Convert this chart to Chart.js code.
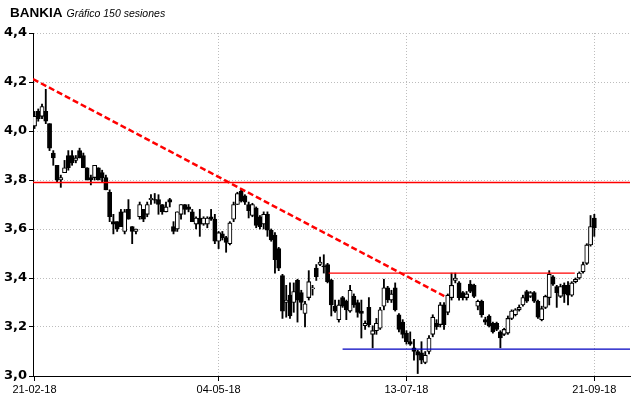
<!DOCTYPE html>
<html>
<head>
<meta charset="utf-8">
<script src="https://cdn.jsdelivr.net/npm/chart.js@4.4.1/dist/chart.umd.min.js"></script>
<style>
  html, body { margin: 0; padding: 0; background: #fff; }
  #wrap { position: relative; width: 640px; height: 398px; }
  #ttl { position: absolute; left: 10px; top: 3px; white-space: nowrap; color: #000; }
  #ttl .a { font: bold 13.5px "Liberation Sans", Arial, sans-serif; }
  #ttl .b { font: italic 10.5px "Liberation Sans", Arial, sans-serif; margin-left: 4px; }
  canvas { position: absolute; left: 0; top: 0; }
</style>
</head>
<body>
<div id="wrap">
  <canvas id="c" width="640" height="398"></canvas>
  <div id="ttl"><span class="a">BANKIA</span><span class="b">Gráfico 150 sesiones</span></div>
</div>
<script>
// ---- data ----
const openP = [
  4.02, 4.08, 4.06, 4.08, 4.03, 3.91, 3.86, 3.80, 3.83, 3.90,
  3.90, 3.88, 3.92, 3.90, 3.85, 3.81, 3.81, 3.85, 3.83, 3.81,
  3.75, 3.63, 3.63, 3.67, 3.59, 3.68, 3.61, 3.59, 3.65, 3.68,
  3.66, 3.72, 3.72, 3.72, 3.70, 3.67, 3.72, 3.61, 3.60, 3.66,
  3.70, 3.69, 3.67, 3.62, 3.645, 3.62, 3.62, 3.65, 3.64, 3.55,
  3.58, 3.565, 3.54, 3.64, 3.70, 3.755, 3.735, 3.70, 3.655, 3.685,
  3.65, 3.62, 3.66, 3.595, 3.575, 3.52, 3.41, 3.30, 3.33, 3.30,
  3.39, 3.34, 3.255, 3.32, 3.355, 3.44, 3.455, 3.45, 3.455, 3.39,
  3.285, 3.23, 3.32, 3.305, 3.265, 3.325, 3.30, 3.265, 3.205, 3.28,
  3.17, 3.185, 3.195, 3.285, 3.36, 3.31, 3.36, 3.25, 3.22, 3.175,
  3.14, 3.115, 3.10, 3.095, 3.055, 3.10, 3.17, 3.215, 3.21, 3.29,
  3.26, 3.32, 3.39, 3.38, 3.34, 3.32, 3.375, 3.37, 3.285, 3.305,
  3.23, 3.245, 3.215, 3.215, 3.18, 3.17, 3.175, 3.235, 3.25, 3.27,
  3.29, 3.345, 3.325, 3.34, 3.305, 3.23, 3.28, 3.32, 3.405, 3.365,
  3.325, 3.37, 3.37, 3.33, 3.385, 3.40, 3.425, 3.46, 3.535, 3.645
];
const highP = [
  4.08, 4.09, 4.11, 4.17, 4.03, 3.92, 3.86, 3.82, 3.88, 3.92,
  3.92, 3.90, 3.93, 3.91, 3.85, 3.82, 3.86, 3.85, 3.84, 3.82,
  3.76, 3.66, 3.63, 3.68, 3.68, 3.72, 3.61, 3.60, 3.71, 3.68,
  3.71, 3.74, 3.745, 3.74, 3.70, 3.71, 3.725, 3.63, 3.67, 3.70,
  3.70, 3.70, 3.68, 3.65, 3.68, 3.65, 3.65, 3.68, 3.66, 3.59,
  3.59, 3.57, 3.63, 3.71, 3.75, 3.765, 3.74, 3.71, 3.705, 3.69,
  3.655, 3.67, 3.67, 3.60, 3.585, 3.525, 3.415, 3.37, 3.38, 3.38,
  3.395, 3.35, 3.305, 3.43, 3.37, 3.455, 3.485, 3.495, 3.46, 3.395,
  3.31, 3.31, 3.325, 3.31, 3.37, 3.335, 3.31, 3.31, 3.225, 3.32,
  3.205, 3.235, 3.28, 3.395, 3.366, 3.35, 3.38, 3.255, 3.23, 3.185,
  3.18, 3.15, 3.105, 3.14, 3.10, 3.165, 3.25, 3.23, 3.30, 3.30,
  3.335, 3.42, 3.42, 3.385, 3.345, 3.345, 3.39, 3.375, 3.31, 3.31,
  3.24, 3.25, 3.22, 3.22, 3.185, 3.195, 3.245, 3.27, 3.275, 3.29,
  3.33, 3.35, 3.345, 3.345, 3.31, 3.285, 3.33, 3.43, 3.41, 3.37,
  3.375, 3.38, 3.385, 3.385, 3.40, 3.425, 3.465, 3.54, 3.655, 3.66
];
const lowP = [
  4.01, 4.04, 4.05, 4.03, 3.92, 3.86, 3.79, 3.77, 3.83, 3.84,
  3.86, 3.87, 3.89, 3.85, 3.80, 3.78, 3.80, 3.80, 3.79, 3.76,
  3.63, 3.58, 3.59, 3.61, 3.58, 3.64, 3.54, 3.58, 3.64, 3.63,
  3.65, 3.70, 3.705, 3.66, 3.66, 3.67, 3.69, 3.58, 3.59, 3.64,
  3.66, 3.67, 3.63, 3.60, 3.57, 3.615, 3.605, 3.635, 3.54, 3.52,
  3.555, 3.505, 3.535, 3.63, 3.70, 3.71, 3.70, 3.645, 3.65, 3.605,
  3.60, 3.60, 3.57, 3.55, 3.42, 3.43, 3.235, 3.24, 3.235, 3.26,
  3.22, 3.27, 3.20, 3.31, 3.33, 3.39, 3.45, 3.42, 3.38, 3.245,
  3.26, 3.22, 3.28, 3.23, 3.26, 3.28, 3.24, 3.155, 3.19, 3.20,
  3.115, 3.17, 3.19, 3.27, 3.30, 3.30, 3.265, 3.18, 3.155, 3.13,
  3.125, 3.065, 3.01, 3.05, 3.05, 3.09, 3.16, 3.19, 3.20, 3.19,
  3.25, 3.31, 3.38, 3.31, 3.31, 3.31, 3.34, 3.32, 3.27, 3.24,
  3.21, 3.20, 3.175, 3.185, 3.115, 3.165, 3.17, 3.23, 3.245, 3.265,
  3.285, 3.30, 3.32, 3.30, 3.235, 3.225, 3.275, 3.29, 3.37, 3.28,
  3.32, 3.30, 3.29, 3.325, 3.38, 3.395, 3.42, 3.455, 3.53, 3.57
];
const closeP = [
  4.06, 4.05, 4.10, 4.04, 3.93, 3.89, 3.80, 3.81, 3.85, 3.85,
  3.87, 3.89, 3.89, 3.85, 3.80, 3.80, 3.86, 3.80, 3.81, 3.76,
  3.65, 3.62, 3.60, 3.61, 3.67, 3.64, 3.59, 3.60, 3.70, 3.64,
  3.70, 3.725, 3.718, 3.70, 3.67, 3.69, 3.71, 3.59, 3.67, 3.70,
  3.68, 3.68, 3.63, 3.645, 3.62, 3.645, 3.645, 3.64, 3.55, 3.585,
  3.565, 3.545, 3.625, 3.70, 3.745, 3.715, 3.71, 3.675, 3.70, 3.615,
  3.61, 3.66, 3.595, 3.555, 3.475, 3.44, 3.265, 3.31, 3.245, 3.345,
  3.31, 3.30, 3.295, 3.385, 3.36, 3.405, 3.465, 3.445, 3.385, 3.29,
  3.265, 3.29, 3.285, 3.27, 3.35, 3.29, 3.26, 3.255, 3.215, 3.21,
  3.185, 3.215, 3.27, 3.36, 3.312, 3.335, 3.27, 3.19, 3.17, 3.14,
  3.13, 3.10, 3.085, 3.065, 3.085, 3.155, 3.24, 3.20, 3.29, 3.21,
  3.33, 3.37, 3.40, 3.32, 3.32, 3.335, 3.345, 3.325, 3.305, 3.25,
  3.22, 3.205, 3.18, 3.19, 3.155, 3.19, 3.235, 3.265, 3.27, 3.28,
  3.32, 3.305, 3.34, 3.305, 3.24, 3.275, 3.325, 3.415, 3.375, 3.34,
  3.365, 3.335, 3.33, 3.38, 3.395, 3.42, 3.455, 3.535, 3.61, 3.605
];

// x-axis date ticks (session index -> label)
const dateTickIdx = [0, 49, 99, 149];
const dateTickLabels = ['21-02-18', '04-05-18', '13-07-18', '21-09-18'];

// y-axis ticks
const priceTicks = [3.0, 3.2, 3.4, 3.6, 3.8, 4.0, 4.2, 4.4];
const priceTickLabels = ['3,0', '3,2', '3,4', '3,6', '3,8', '4,0', '4,2', '4,4'];

// drawn analysis lines (session index / price)
const trendX = [-0.4, 109.6];
const trendY = [4.212, 3.322];
const mainLevelX = [-0.4, 158.5];
const mainLevelY = [3.79, 3.79];
const resistX = [78.3, 143.8];
const resistY = [3.42, 3.42];
const supportX = [82, 158.5];
const supportY = [3.11, 3.11];

// ---- build chart ----
const n = openP.length;
const idx = Array.from({length: n}, (_, i) => i);
const wickData = idx.map(i => ({x: i, y: [lowP[i], highP[i]]}));
const bodyData = idx.map(i => ({x: i, y: [Math.min(openP[i], closeP[i]), Math.max(openP[i], closeP[i])]}));
const bodyFill = idx.map(i => closeP[i] >= openP[i] ? '#ffffff' : '#000000');
const pts = (xs, ys) => xs.map((x, k) => ({x: x, y: ys[k]}));

const gridCol = '#bdbdbd';

new Chart(document.getElementById('c'), {
  type: 'bar',
  data: {
    datasets: [
      { type: 'line', data: pts(trendX, trendY), borderColor: '#ff0000', borderWidth: 2.5,
        borderDash: [6, 3], pointRadius: 0, fill: false, order: 0 },
      { type: 'line', data: pts(mainLevelX, mainLevelY), borderColor: '#ff0000', borderWidth: 1.5,
        pointRadius: 0, fill: false, order: 0 },
      { type: 'line', data: pts(resistX, resistY), borderColor: '#ff0000', borderWidth: 1.2,
        pointRadius: 0, fill: false, order: 0 },
      { type: 'line', data: pts(supportX, supportY), borderColor: '#0000c0', borderWidth: 1.2,
        pointRadius: 0, fill: false, order: 0 },
      { data: bodyData, backgroundColor: bodyFill, borderColor: '#000', borderWidth: 1.1,
        borderSkipped: false, barThickness: 4.2, grouped: false, order: 1 },
      { data: wickData, backgroundColor: '#000', borderWidth: 0,
        barThickness: 1.2, grouped: false, order: 2 }
    ]
  },
  options: {
    responsive: false,
    animation: false,
    events: [],
    layout: { padding: { top: 33, right: 10, left: 0, bottom: 0 } },
    plugins: { legend: { display: false }, tooltip: { enabled: false }, title: { display: false } },
    scales: {
      x: {
        type: 'linear', min: -0.4, max: 158.5, offset: false,
        afterBuildTicks: s => { s.ticks = dateTickIdx.map(v => ({value: v})); },
        afterFit: s => { s.height = 22; },
        ticks: {
          autoSkip: false, maxRotation: 0, padding: 2, color: '#000',
          font: { family: 'Liberation Sans', size: 11 },
          callback: (v, i) => dateTickLabels[i]
        },
        grid: {
          offset: false,
          color: c => (c.tick && c.tick.value === 0) ? 'rgba(0,0,0,0)' : gridCol,
          lineWidth: 1, drawTicks: true, tickLength: 5, tickColor: '#000', tickBorderDash: [], tickWidth: 1
        },
        border: { display: true, color: '#000', width: 1, dash: [1, 2] }
      },
      y: {
        type: 'linear', min: 3.0, max: 4.4,
        afterBuildTicks: s => { s.ticks = priceTicks.map(v => ({value: v})); },
        afterFit: s => { s.width = 33; },
        ticks: {
          padding: 2, color: '#000',
          font: { family: 'DejaVu Sans', size: 13, weight: 'bold' },
          callback: (v, i) => priceTickLabels[i]
        },
        grid: {
          offset: false,
          color: c => (c.tick && c.tick.value === 3.0) ? 'rgba(0,0,0,0)' : gridCol,
          lineWidth: 1, drawTicks: true, tickLength: 4, tickColor: '#000', tickBorderDash: [], tickWidth: 1
        },
        border: { display: true, color: '#000', width: 1, dash: [1, 2] }
      }
    }
  }
});
</script>
</body>
</html>
